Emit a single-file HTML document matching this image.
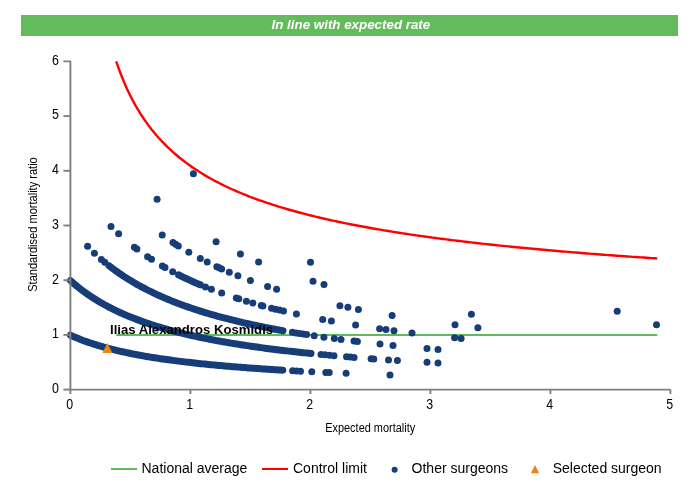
<!DOCTYPE html>
<html><head><meta charset="utf-8"><title>Funnel plot</title>
<style>
html,body{margin:0;padding:0;background:#fff;width:700px;height:500px;overflow:hidden}
.bar{position:absolute;left:21px;top:15px;width:657px;height:21px;background:#63bb5c}
svg{position:absolute;left:0;top:0}
</style></head><body>
<div class="bar"></div>
<svg width="700" height="500" viewBox="0 0 700 500">
<path d="M116.23,61.40 L118.94,69.13 L121.64,76.24 L124.35,82.81 L127.05,88.90 L129.76,94.57 L132.46,99.87 L135.16,104.83 L137.87,109.49 L140.57,113.87 L143.28,118.01 L145.98,121.93 L148.69,125.64 L151.39,129.16 L154.10,132.52 L156.80,135.71 L159.51,138.76 L162.21,141.67 L164.92,144.45 L167.62,147.12 L170.33,149.68 L173.03,152.13 L175.74,154.50 L178.44,156.77 L181.15,158.96 L183.85,161.07 L186.56,163.10 L189.26,165.07 L191.97,166.97 L194.67,168.81 L197.38,170.59 L200.08,172.31 L202.79,173.98 L205.49,175.60 L208.20,177.17 L210.90,178.69 L213.61,180.18 L216.31,181.62 L219.02,183.02 L221.72,184.38 L224.42,185.71 L227.13,187.00 L229.83,188.26 L232.54,189.49 L235.24,190.69 L237.95,191.86 L240.65,193.00 L243.36,194.11 L246.06,195.20 L248.77,196.26 L251.47,197.30 L254.18,198.32 L256.88,199.31 L259.59,200.29 L262.29,201.24 L265.00,202.17 L267.70,203.08 L270.41,203.98 L273.11,204.85 L275.82,205.71 L278.52,206.56 L281.23,207.38 L283.93,208.19 L286.64,208.99 L289.34,209.77 L292.05,210.53 L294.75,211.28 L297.46,212.02 L300.16,212.75 L302.87,213.46 L305.57,214.16 L308.27,214.85 L310.98,215.53 L313.68,216.19 L316.39,216.85 L319.09,217.49 L321.80,218.12 L324.50,218.75 L327.21,219.36 L329.91,219.96 L332.62,220.56 L335.32,221.14 L338.03,221.72 L340.73,222.29 L343.44,222.85 L346.14,223.40 L348.85,223.94 L351.55,224.48 L354.26,225.00 L356.96,225.52 L359.67,226.04 L362.37,226.54 L365.08,227.04 L367.78,227.53 L370.49,228.02 L373.19,228.49 L375.90,228.97 L378.60,229.43 L381.31,229.89 L384.01,230.35 L386.72,230.79 L389.42,231.24 L392.13,231.67 L394.83,232.10 L397.53,232.53 L400.24,232.95 L402.94,233.37 L405.65,233.78 L408.35,234.18 L411.06,234.58 L413.76,234.98 L416.47,235.37 L419.17,235.76 L421.88,236.14 L424.58,236.52 L427.29,236.89 L429.99,237.26 L432.70,237.62 L435.40,237.99 L438.11,238.34 L440.81,238.70 L443.52,239.05 L446.22,239.39 L448.93,239.73 L451.63,240.07 L454.34,240.41 L457.04,240.74 L459.75,241.06 L462.45,241.39 L465.16,241.71 L467.86,242.03 L470.57,242.34 L473.27,242.65 L475.98,242.96 L478.68,243.27 L481.39,243.57 L484.09,243.87 L486.79,244.16 L489.50,244.46 L492.20,244.75 L494.91,245.03 L497.61,245.32 L500.32,245.60 L503.02,245.88 L505.73,246.16 L508.43,246.43 L511.14,246.70 L513.84,246.97 L516.55,247.24 L519.25,247.51 L521.96,247.77 L524.66,248.03 L527.37,248.28 L530.07,248.54 L532.78,248.79 L535.48,249.04 L538.19,249.29 L540.89,249.54 L543.60,249.78 L546.30,250.03 L549.01,250.27 L551.71,250.50 L554.42,250.74 L557.12,250.97 L559.83,251.21 L562.53,251.44 L565.24,251.66 L567.94,251.89 L570.64,252.12 L573.35,252.34 L576.05,252.56 L578.76,252.78 L581.46,253.00 L584.17,253.21 L586.87,253.43 L589.58,253.64 L592.28,253.85 L594.99,254.06 L597.69,254.27 L600.40,254.47 L603.10,254.68 L605.81,254.88 L608.51,255.08 L611.22,255.28 L613.92,255.48 L616.63,255.68 L619.33,255.87 L622.04,256.07 L624.74,256.26 L627.45,256.45 L630.15,256.64 L632.86,256.83 L635.56,257.02 L638.27,257.20 L640.97,257.39 L643.68,257.57 L646.38,257.75 L649.09,257.93 L651.79,258.11 L654.50,258.29 L657.20,258.47" fill="none" stroke="#ff0000" stroke-width="2.4"/>
<line x1="116.23" y1="335.05" x2="657.20" y2="335.05" stroke="#60b95a" stroke-width="2"/>
<path d="M70.40,335.20 L72.40,336.10 L74.41,336.97 L76.41,337.81 L78.42,338.62 L80.42,339.42 L82.42,340.18 L84.43,340.92 L86.43,341.65 L88.43,342.35 L90.44,343.03 L92.44,343.69 L94.45,344.33 L96.45,344.96 L98.45,345.56 L100.46,346.16 L102.46,346.73 L104.46,347.29 L106.47,347.84 L108.47,348.37 L110.48,348.89 L112.48,349.40 L114.48,349.90 L116.49,350.38 L118.49,350.85 L120.49,351.31 L122.50,351.76 L124.50,352.20 L126.51,352.63 L128.51,353.05 L130.51,353.46 L132.52,353.86 L134.52,354.25 L136.52,354.63 L138.53,355.01 L140.53,355.38 L142.54,355.74 L144.54,356.09 L146.54,356.43 L148.55,356.77 L150.55,357.10 L152.55,357.43 L154.56,357.75 L156.56,358.06 L158.57,358.37 L160.57,358.67 L162.57,358.96 L164.58,359.25 L166.58,359.54 L168.58,359.82 L170.59,360.09 L172.59,360.36 L174.60,360.62 L176.60,360.88 L178.60,361.14 L180.61,361.39 L182.61,361.63 L184.62,361.87 L186.62,362.11 L188.62,362.35 L190.63,362.58 L192.63,362.80 L194.63,363.02 L196.64,363.24 L198.64,363.46 L200.65,363.67 L202.65,363.88 L204.65,364.08 L206.66,364.29 L208.66,364.48 L210.66,364.68 L212.67,364.87 L214.67,365.06 L216.68,365.25 L218.68,365.43 L220.68,365.61 L222.69,365.79 L224.69,365.97 L226.69,366.14 L228.70,366.31 L230.70,366.48 L232.71,366.65 L234.71,366.81 L236.71,366.97 L238.72,367.13 L240.72,367.29 L242.72,367.45 L244.73,367.60 L246.73,367.75 L248.74,367.90 L250.74,368.04 L252.74,368.19 L254.75,368.33 L256.75,368.47 L258.75,368.61 L260.76,368.75 L262.76,368.89 L264.77,369.02 L266.77,369.15 L268.77,369.28 L270.78,369.41 L272.78,369.54 L274.78,369.66 L276.79,369.79 L278.79,369.91 L280.80,370.03 L282.80,370.15" fill="none" stroke="#173d78" stroke-width="7.0" stroke-linecap="round" stroke-linejoin="round"/>
<path d="M70.40,280.50 L72.41,282.30 L74.41,284.04 L76.42,285.72 L78.42,287.35 L80.43,288.93 L82.43,290.47 L84.44,291.96 L86.44,293.40 L88.45,294.80 L90.45,296.16 L92.46,297.49 L94.46,298.77 L96.47,300.02 L98.47,301.24 L100.48,302.42 L102.48,303.58 L104.49,304.70 L106.49,305.79 L108.50,306.86 L110.50,307.90 L112.50,308.92 L114.51,309.90 L116.52,310.87 L118.52,311.81 L120.53,312.73 L122.53,313.63 L124.53,314.51 L126.54,315.37 L128.55,316.21 L130.55,317.03 L132.56,317.83 L134.56,318.61 L136.56,319.38 L138.57,320.13 L140.57,320.87 L142.58,321.59 L144.58,322.29 L146.59,322.99 L148.59,323.66 L150.60,324.33 L152.61,324.98 L154.61,325.61 L156.62,326.24 L158.62,326.85 L160.62,327.45 L162.63,328.04 L164.63,328.62 L166.64,329.19 L168.64,329.75 L170.65,330.30 L172.66,330.83 L174.66,331.36 L176.67,331.88 L178.67,332.39 L180.68,332.89 L182.68,333.38 L184.69,333.87 L186.69,334.34 L188.69,334.81 L190.70,335.27 L192.71,335.72 L194.71,336.16 L196.72,336.60 L198.72,337.03 L200.72,337.46 L202.73,337.87 L204.73,338.28 L206.74,338.69 L208.74,339.08 L210.75,339.48 L212.75,339.86 L214.76,340.24 L216.76,340.61 L218.77,340.98 L220.78,341.35 L222.78,341.70 L224.79,342.05 L226.79,342.40 L228.79,342.74 L230.80,343.08 L232.81,343.41 L234.81,343.74 L236.81,344.06 L238.82,344.38 L240.83,344.70 L242.83,345.01 L244.84,345.31 L246.84,345.61 L248.84,345.91 L250.85,346.21 L252.85,346.50 L254.86,346.78 L256.87,347.06 L258.87,347.34 L260.88,347.62 L262.88,347.89 L264.88,348.16 L266.89,348.42 L268.89,348.68 L270.90,348.94 L272.90,349.19 L274.91,349.45 L276.91,349.69 L278.92,349.94 L280.93,350.18 L282.93,350.42 L284.94,350.66 L286.94,350.89 L288.94,351.12 L290.95,351.35 L292.95,351.58 L294.96,351.80 L296.97,352.02 L298.97,352.24 L300.98,352.45 L302.98,352.67 L304.99,352.88 L306.99,353.08 L309.00,353.29 L311.00,353.49" fill="none" stroke="#173d78" stroke-width="7.0" stroke-linecap="round" stroke-linejoin="round"/>
<path d="M109.00,265.74 L111.00,267.28 L113.00,268.79 L115.00,270.26 L117.00,271.70 L119.00,273.10 L121.00,274.47 L123.00,275.81 L125.00,277.12 L127.00,278.39 L129.00,279.64 L131.00,280.86 L133.00,282.06 L135.00,283.23 L137.00,284.37 L139.00,285.49 L141.00,286.58 L143.00,287.66 L145.00,288.71 L147.00,289.74 L149.00,290.75 L151.00,291.73 L153.00,292.70 L155.00,293.65 L157.00,294.59 L159.00,295.50 L161.00,296.40 L163.00,297.28 L165.00,298.14 L167.00,298.99 L169.00,299.82 L171.00,300.63 L173.00,301.44 L175.00,302.22 L177.00,303.00 L179.00,303.76 L181.00,304.51 L183.00,305.24 L185.00,305.96 L187.00,306.67 L189.00,307.37 L191.00,308.05 L193.00,308.73 L195.00,309.39 L197.00,310.05 L199.00,310.69 L201.00,311.32 L203.00,311.94 L205.00,312.56 L207.00,313.16 L209.00,313.75 L211.00,314.34 L213.00,314.91 L215.00,315.48 L217.00,316.04 L219.00,316.59 L221.00,317.13 L223.00,317.66 L225.00,318.19 L227.00,318.71 L229.00,319.22 L231.00,319.72 L233.00,320.22 L235.00,320.71 L237.00,321.19 L239.00,321.67 L241.00,322.14 L243.00,322.60 L245.00,323.06 L247.00,323.51 L249.00,323.95 L251.00,324.39 L253.00,324.82 L255.00,325.25 L257.00,325.67 L259.00,326.09 L261.00,326.50 L263.00,326.91 L265.00,327.31 L267.00,327.70 L269.00,328.09 L271.00,328.48 L273.00,328.86 L275.00,329.23 L277.00,329.61 L279.00,329.97 L281.00,330.34 L283.00,330.69" fill="none" stroke="#173d78" stroke-width="7.0" stroke-linecap="round" stroke-linejoin="round"/>
<path d="M180.00,275.54 L182.03,276.55 L184.06,277.53 L186.09,278.50 L188.12,279.45 L190.15,280.39 L192.18,281.31 L194.21,282.21 L196.24,283.10 L198.27,283.97 L200.30,284.83" fill="none" stroke="#173d78" stroke-width="7.0" stroke-linecap="round" stroke-linejoin="round"/>
<circle cx="292.60" cy="370.72" r="3.5" fill="#173d78"/>
<circle cx="296.50" cy="370.93" r="3.5" fill="#173d78"/>
<circle cx="300.50" cy="371.15" r="3.5" fill="#173d78"/>
<circle cx="321.00" cy="354.48" r="3.5" fill="#173d78"/>
<circle cx="325.00" cy="354.85" r="3.5" fill="#173d78"/>
<circle cx="329.50" cy="355.27" r="3.5" fill="#173d78"/>
<circle cx="334.00" cy="355.68" r="3.5" fill="#173d78"/>
<circle cx="346.50" cy="356.76" r="3.5" fill="#173d78"/>
<circle cx="350.30" cy="357.07" r="3.5" fill="#173d78"/>
<circle cx="354.10" cy="357.38" r="3.5" fill="#173d78"/>
<circle cx="371.10" cy="358.69" r="3.5" fill="#173d78"/>
<circle cx="373.80" cy="358.89" r="3.5" fill="#173d78"/>
<circle cx="292.40" cy="332.32" r="3.5" fill="#173d78"/>
<circle cx="296.00" cy="332.92" r="3.5" fill="#173d78"/>
<circle cx="299.50" cy="333.49" r="3.5" fill="#173d78"/>
<circle cx="303.00" cy="334.05" r="3.5" fill="#173d78"/>
<circle cx="306.60" cy="334.62" r="3.5" fill="#173d78"/>
<circle cx="178.50" cy="274.79" r="3.5" fill="#173d78"/>
<circle cx="271.50" cy="308.13" r="3.5" fill="#173d78"/>
<circle cx="275.50" cy="309.14" r="3.5" fill="#173d78"/>
<circle cx="279.50" cy="310.12" r="3.5" fill="#173d78"/>
<circle cx="283.50" cy="311.08" r="3.5" fill="#173d78"/>
<circle cx="173.00" cy="242.46" r="3.5" fill="#173d78"/>
<circle cx="175.60" cy="244.16" r="3.5" fill="#173d78"/>
<circle cx="178.30" cy="245.89" r="3.5" fill="#173d78"/>
<circle cx="311.80" cy="371.74" r="3.5" fill="#173d78"/>
<circle cx="325.80" cy="372.41" r="3.5" fill="#173d78"/>
<circle cx="329.20" cy="372.57" r="3.5" fill="#173d78"/>
<circle cx="346.10" cy="373.31" r="3.5" fill="#173d78"/>
<circle cx="390.00" cy="374.97" r="3.5" fill="#173d78"/>
<circle cx="388.50" cy="359.93" r="3.5" fill="#173d78"/>
<circle cx="397.40" cy="360.53" r="3.5" fill="#173d78"/>
<circle cx="427.00" cy="362.35" r="3.5" fill="#173d78"/>
<circle cx="438.00" cy="362.98" r="3.5" fill="#173d78"/>
<circle cx="87.60" cy="246.37" r="3.5" fill="#173d78"/>
<circle cx="94.40" cy="253.15" r="3.5" fill="#173d78"/>
<circle cx="101.40" cy="259.49" r="3.5" fill="#173d78"/>
<circle cx="104.80" cy="262.36" r="3.5" fill="#173d78"/>
<circle cx="314.20" cy="335.77" r="3.5" fill="#173d78"/>
<circle cx="323.90" cy="337.18" r="3.5" fill="#173d78"/>
<circle cx="334.30" cy="338.61" r="3.5" fill="#173d78"/>
<circle cx="341.00" cy="339.49" r="3.5" fill="#173d78"/>
<circle cx="354.00" cy="341.11" r="3.5" fill="#173d78"/>
<circle cx="357.40" cy="341.52" r="3.5" fill="#173d78"/>
<circle cx="380.00" cy="344.06" r="3.5" fill="#173d78"/>
<circle cx="393.00" cy="345.41" r="3.5" fill="#173d78"/>
<circle cx="427.00" cy="348.58" r="3.5" fill="#173d78"/>
<circle cx="438.00" cy="349.51" r="3.5" fill="#173d78"/>
<circle cx="111.00" cy="226.41" r="3.5" fill="#173d78"/>
<circle cx="118.60" cy="233.80" r="3.5" fill="#173d78"/>
<circle cx="134.40" cy="247.20" r="3.5" fill="#173d78"/>
<circle cx="136.90" cy="249.12" r="3.5" fill="#173d78"/>
<circle cx="147.60" cy="256.76" r="3.5" fill="#173d78"/>
<circle cx="151.50" cy="259.34" r="3.5" fill="#173d78"/>
<circle cx="162.40" cy="266.05" r="3.5" fill="#173d78"/>
<circle cx="165.00" cy="267.55" r="3.5" fill="#173d78"/>
<circle cx="172.70" cy="271.79" r="3.5" fill="#173d78"/>
<circle cx="205.50" cy="286.98" r="3.5" fill="#173d78"/>
<circle cx="211.40" cy="289.30" r="3.5" fill="#173d78"/>
<circle cx="221.70" cy="293.12" r="3.5" fill="#173d78"/>
<circle cx="236.30" cy="298.06" r="3.5" fill="#173d78"/>
<circle cx="238.80" cy="298.86" r="3.5" fill="#173d78"/>
<circle cx="246.40" cy="301.20" r="3.5" fill="#173d78"/>
<circle cx="252.90" cy="303.10" r="3.5" fill="#173d78"/>
<circle cx="261.30" cy="305.45" r="3.5" fill="#173d78"/>
<circle cx="262.90" cy="305.88" r="3.5" fill="#173d78"/>
<circle cx="296.40" cy="314.02" r="3.5" fill="#173d78"/>
<circle cx="322.70" cy="319.38" r="3.5" fill="#173d78"/>
<circle cx="331.40" cy="320.99" r="3.5" fill="#173d78"/>
<circle cx="355.60" cy="325.10" r="3.5" fill="#173d78"/>
<circle cx="379.60" cy="328.73" r="3.5" fill="#173d78"/>
<circle cx="386.00" cy="329.62" r="3.5" fill="#173d78"/>
<circle cx="394.00" cy="330.71" r="3.5" fill="#173d78"/>
<circle cx="412.00" cy="333.02" r="3.5" fill="#173d78"/>
<circle cx="454.60" cy="337.83" r="3.5" fill="#173d78"/>
<circle cx="461.10" cy="338.49" r="3.5" fill="#173d78"/>
<circle cx="162.20" cy="234.94" r="3.5" fill="#173d78"/>
<circle cx="188.80" cy="252.23" r="3.5" fill="#173d78"/>
<circle cx="200.30" cy="258.57" r="3.5" fill="#173d78"/>
<circle cx="207.20" cy="262.10" r="3.5" fill="#173d78"/>
<circle cx="216.80" cy="266.70" r="3.5" fill="#173d78"/>
<circle cx="219.20" cy="267.80" r="3.5" fill="#173d78"/>
<circle cx="221.60" cy="268.88" r="3.5" fill="#173d78"/>
<circle cx="229.30" cy="272.22" r="3.5" fill="#173d78"/>
<circle cx="237.90" cy="275.74" r="3.5" fill="#173d78"/>
<circle cx="250.40" cy="280.50" r="3.5" fill="#173d78"/>
<circle cx="267.60" cy="286.43" r="3.5" fill="#173d78"/>
<circle cx="276.60" cy="289.29" r="3.5" fill="#173d78"/>
<circle cx="339.90" cy="305.64" r="3.5" fill="#173d78"/>
<circle cx="347.90" cy="307.33" r="3.5" fill="#173d78"/>
<circle cx="358.40" cy="309.46" r="3.5" fill="#173d78"/>
<circle cx="392.10" cy="315.60" r="3.5" fill="#173d78"/>
<circle cx="455.00" cy="324.86" r="3.5" fill="#173d78"/>
<circle cx="477.90" cy="327.68" r="3.5" fill="#173d78"/>
<circle cx="157.10" cy="199.36" r="3.5" fill="#173d78"/>
<circle cx="216.10" cy="241.67" r="3.5" fill="#173d78"/>
<circle cx="240.40" cy="254.09" r="3.5" fill="#173d78"/>
<circle cx="258.60" cy="262.11" r="3.5" fill="#173d78"/>
<circle cx="313.00" cy="281.28" r="3.5" fill="#173d78"/>
<circle cx="324.00" cy="284.48" r="3.5" fill="#173d78"/>
<circle cx="471.40" cy="314.31" r="3.5" fill="#173d78"/>
<circle cx="310.50" cy="262.30" r="3.5" fill="#173d78"/>
<circle cx="656.50" cy="324.83" r="3.5" fill="#173d78"/>
<circle cx="193.40" cy="173.80" r="3.5" fill="#173d78"/>
<circle cx="617.20" cy="311.15" r="3.5" fill="#173d78"/>
<polygon points="107.4,342.9 112.4,352.9 102.4,352.9" fill="#f18315"/>
<g stroke="#7f7f7f" stroke-width="1.9" fill="none" stroke-linejoin="round">
<path d="M63.4,61.40 H70.40 V389.60 H670.40"/>
<line x1="63.4" y1="389.60" x2="70.40" y2="389.60"/>
<line x1="63.4" y1="334.90" x2="70.40" y2="334.90"/>
<line x1="63.4" y1="280.20" x2="70.40" y2="280.20"/>
<line x1="63.4" y1="225.50" x2="70.40" y2="225.50"/>
<line x1="63.4" y1="170.80" x2="70.40" y2="170.80"/>
<line x1="63.4" y1="116.10" x2="70.40" y2="116.10"/>
<line x1="70.40" y1="389.60" x2="70.40" y2="394"/>
<line x1="190.40" y1="389.60" x2="190.40" y2="394"/>
<line x1="310.40" y1="389.60" x2="310.40" y2="394"/>
<line x1="430.40" y1="389.60" x2="430.40" y2="394"/>
<line x1="550.40" y1="389.60" x2="550.40" y2="394"/>
<line x1="670.40" y1="389.60" x2="670.40" y2="394"/>
</g>
<g font-family="Liberation Sans, sans-serif" font-size="14" fill="#000"><text x="59.0" y="392.90" text-anchor="end" textLength="6.9" lengthAdjust="spacingAndGlyphs">0</text><text x="59.0" y="338.20" text-anchor="end" textLength="6.9" lengthAdjust="spacingAndGlyphs">1</text><text x="59.0" y="283.50" text-anchor="end" textLength="6.9" lengthAdjust="spacingAndGlyphs">2</text><text x="59.0" y="228.80" text-anchor="end" textLength="6.9" lengthAdjust="spacingAndGlyphs">3</text><text x="59.0" y="174.10" text-anchor="end" textLength="6.9" lengthAdjust="spacingAndGlyphs">4</text><text x="59.0" y="119.40" text-anchor="end" textLength="6.9" lengthAdjust="spacingAndGlyphs">5</text><text x="59.0" y="64.70" text-anchor="end" textLength="6.9" lengthAdjust="spacingAndGlyphs">6</text><text x="69.80" y="408.8" text-anchor="middle" textLength="6.9" lengthAdjust="spacingAndGlyphs">0</text><text x="189.80" y="408.8" text-anchor="middle" textLength="6.9" lengthAdjust="spacingAndGlyphs">1</text><text x="309.80" y="408.8" text-anchor="middle" textLength="6.9" lengthAdjust="spacingAndGlyphs">2</text><text x="429.80" y="408.8" text-anchor="middle" textLength="6.9" lengthAdjust="spacingAndGlyphs">3</text><text x="549.80" y="408.8" text-anchor="middle" textLength="6.9" lengthAdjust="spacingAndGlyphs">4</text><text x="669.80" y="408.8" text-anchor="middle" textLength="6.9" lengthAdjust="spacingAndGlyphs">5</text></g>
<text x="110" y="334" font-family="Liberation Sans, sans-serif" font-size="13.15" font-weight="bold" fill="#000">Ilias Alexandros Kosmidis</text>
<text x="370.2" y="432.2" text-anchor="middle" font-family="Liberation Sans, sans-serif" font-size="12" textLength="90" lengthAdjust="spacingAndGlyphs" fill="#000">Expected mortality</text>
<text transform="translate(36.9,224.5) rotate(-90)" text-anchor="middle" font-family="Liberation Sans, sans-serif" font-size="12" textLength="134.5" lengthAdjust="spacingAndGlyphs" fill="#000">Standardised mortality ratio</text>
<text x="350.9" y="28.7" text-anchor="middle" font-family="Liberation Sans, sans-serif" font-size="13.35" font-weight="bold" font-style="italic" fill="#fff">In line with expected rate</text>
<line x1="111" y1="469" x2="137" y2="469" stroke="#60b95a" stroke-width="2"/>
<line x1="262" y1="469" x2="288" y2="469" stroke="#ff0000" stroke-width="2"/>
<circle cx="394.6" cy="469.7" r="3" fill="#173d78"/>
<polygon points="535.0,465.1 539.1,473.3 530.9,473.3" fill="#f18315"/>
<text x="141.5" y="473.3" font-family="Liberation Sans, sans-serif" font-size="14" fill="#000">National average</text>
<text x="293.0" y="473.3" font-family="Liberation Sans, sans-serif" font-size="14" fill="#000">Control limit</text>
<text x="411.6" y="473.3" font-family="Liberation Sans, sans-serif" font-size="14" fill="#000">Other surgeons</text>
<text x="552.7" y="473.3" font-family="Liberation Sans, sans-serif" font-size="14" fill="#000">Selected surgeon</text>
</svg>
</body></html>
